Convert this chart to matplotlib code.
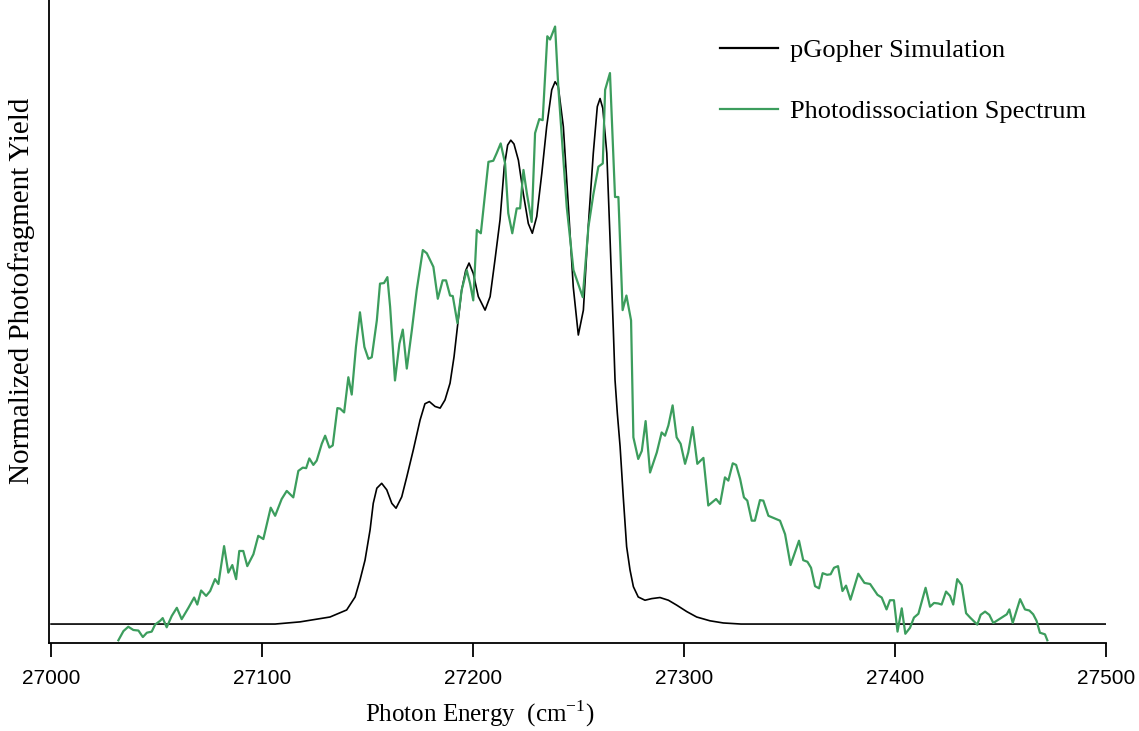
import numpy as np
import matplotlib.pyplot as plt

# pGopher simulation (black), normalised to the strongest band
sim_energy = [27000.0, 27106.2, 27118.0, 27132.2, 27140.1, 27144.1, 27146.4, 27148.8,
              27151.2, 27152.7, 27154.4, 27156.7, 27159.1, 27161.5, 27163.5, 27166.2,
              27168.6, 27171.7, 27174.9, 27177.2, 27179.3, 27182.0, 27184.4, 27186.7,
              27189.1, 27191.0, 27192.6, 27194.6, 27196.5, 27198.1, 27200.1, 27202.5,
              27205.7, 27208.1, 27210.4, 27212.8, 27214.8, 27216.4, 27217.9, 27219.4,
              27221.5, 27223.8, 27226.2, 27228.1, 27230.2, 27232.6, 27234.9, 27237.3,
              27238.9, 27240.4, 27242.8, 27245.2, 27247.5, 27249.9, 27252.3, 27254.6,
              27257.0, 27258.9, 27260.2, 27261.5, 27263.4, 27264.9, 27266.5, 27267.3,
              27268.4, 27269.7, 27271.2, 27272.8, 27274.4, 27276.0, 27278.3, 27281.5,
              27284.7, 27288.6, 27292.6, 27296.5, 27301.3, 27306.0, 27312.3, 27318.6,
              27327.0, 27500.0]
sim_yield = [0.0, 0.0, 0.004, 0.013, 0.026, 0.050, 0.081, 0.118,
             0.174, 0.223, 0.251, 0.260, 0.248, 0.223, 0.214, 0.235,
             0.272, 0.322, 0.377, 0.407, 0.411, 0.402, 0.399, 0.414,
             0.445, 0.494, 0.549, 0.617, 0.653, 0.667, 0.648, 0.605,
             0.580, 0.605, 0.673, 0.747, 0.845, 0.885, 0.894, 0.887,
             0.857, 0.796, 0.740, 0.722, 0.753, 0.833, 0.919, 0.987,
             1.002, 0.993, 0.919, 0.771, 0.623, 0.534, 0.580, 0.734,
             0.870, 0.956, 0.971, 0.953, 0.870, 0.716, 0.543, 0.451,
             0.389, 0.328, 0.235, 0.143, 0.100, 0.069, 0.050, 0.044,
             0.047, 0.049, 0.044, 0.035, 0.023, 0.013, 0.006, 0.002,
             0.0, 0.0]

# measured photodissociation spectrum (green)
exp_energy = [27031.9, 27034.3, 27036.6, 27039.0, 27041.4, 27043.5, 27045.4, 27047.7,
              27049.3, 27051.7, 27052.9, 27054.8, 27057.2, 27059.6, 27061.9, 27065.1,
              27067.8, 27069.3, 27071.1, 27073.5, 27075.4, 27077.7, 27079.3, 27082.0,
              27084.0, 27085.9, 27087.7, 27089.2, 27091.1, 27093.0, 27095.9, 27098.2,
              27100.6, 27104.1, 27106.2, 27109.3, 27111.7, 27114.8, 27117.2, 27119.3,
              27120.9, 27122.4, 27124.3, 27125.9, 27128.3, 27129.9, 27131.9, 27133.5,
              27135.7, 27137.0, 27138.9, 27140.9, 27142.5, 27144.5, 27146.4, 27148.5,
              27150.4, 27152.0, 27154.4, 27155.9, 27157.8, 27159.4, 27160.7, 27163.0,
              27165.1, 27166.7, 27168.6, 27171.0, 27173.3, 27176.2, 27178.1, 27181.2,
              27183.3, 27185.6, 27187.2, 27189.1, 27190.4, 27192.6, 27194.6, 27197.0,
              27198.6, 27200.1, 27201.8, 27203.7, 27207.3, 27209.6, 27211.2, 27213.1,
              27215.2, 27216.7, 27218.6, 27220.7, 27222.3, 27223.9, 27225.5, 27227.8,
              27229.4, 27231.4, 27233.0, 27235.2, 27236.5, 27238.9, 27240.4, 27244.4,
              27247.6, 27252.0, 27254.7, 27257.0, 27259.4, 27261.5, 27262.6, 27264.9,
              27267.3, 27268.9, 27270.9, 27272.7, 27274.9, 27276.0, 27278.3, 27280.0,
              27281.8, 27283.9, 27287.1, 27289.4, 27291.0, 27292.6, 27294.6, 27296.5,
              27298.4, 27300.5, 27302.0, 27304.1, 27306.3, 27309.2, 27311.5, 27315.2,
              27317.1, 27319.4, 27321.0, 27323.1, 27324.7, 27326.6, 27328.4, 27330.0,
              27332.1, 27333.6, 27336.0, 27337.6, 27340.0, 27345.5, 27347.9, 27350.5,
              27354.5, 27356.5, 27358.5, 27360.2, 27362.1, 27364.0, 27365.7, 27367.8,
              27369.5, 27371.1, 27373.0, 27375.1, 27376.8, 27378.9, 27382.6, 27385.5,
              27388.2, 27391.7, 27393.7, 27396.0, 27397.6, 27399.5, 27401.2, 27403.2,
              27404.9, 27407.1, 27409.0, 27411.1, 27414.5, 27416.6, 27418.5, 27420.5,
              27422.1, 27424.2, 27426.1, 27427.6, 27429.5, 27431.6, 27433.7, 27435.6,
              27439.0, 27440.6, 27442.7, 27444.7, 27446.6, 27449.4, 27453.0, 27454.2,
              27455.8, 27459.3, 27461.6, 27463.7, 27465.5, 27467.1, 27468.7, 27471.1,
              27472.2]
exp_yield = [-0.030, -0.013, -0.005, -0.011, -0.012, -0.024, -0.016, -0.014,
             -0.001, 0.006, 0.011, -0.006, 0.015, 0.030, 0.009, 0.030,
             0.049, 0.036, 0.062, 0.052, 0.061, 0.083, 0.074, 0.144,
             0.095, 0.109, 0.083, 0.135, 0.135, 0.107, 0.129, 0.163,
             0.157, 0.215, 0.200, 0.231, 0.246, 0.234, 0.283, 0.289,
             0.288, 0.306, 0.294, 0.302, 0.333, 0.348, 0.326, 0.330,
             0.399, 0.398, 0.391, 0.456, 0.424, 0.512, 0.576, 0.512,
             0.490, 0.493, 0.561, 0.629, 0.630, 0.641, 0.586, 0.450,
             0.518, 0.544, 0.472, 0.543, 0.617, 0.691, 0.685, 0.660,
             0.601, 0.635, 0.635, 0.607, 0.606, 0.556, 0.617, 0.654,
             0.629, 0.598, 0.728, 0.722, 0.854, 0.856, 0.870, 0.888,
             0.851, 0.759, 0.722, 0.768, 0.768, 0.839, 0.796, 0.743,
             0.907, 0.933, 0.931, 1.086, 1.080, 1.104, 0.993, 0.771,
             0.654, 0.604, 0.734, 0.793, 0.845, 0.851, 0.987, 1.018,
             0.789, 0.789, 0.580, 0.607, 0.561, 0.345, 0.305, 0.320,
             0.375, 0.280, 0.317, 0.354, 0.348, 0.367, 0.404, 0.345,
             0.333, 0.296, 0.317, 0.364, 0.296, 0.307, 0.219, 0.231,
             0.222, 0.271, 0.265, 0.297, 0.294, 0.268, 0.234, 0.228,
             0.191, 0.191, 0.229, 0.228, 0.200, 0.191, 0.166, 0.109,
             0.154, 0.118, 0.115, 0.104, 0.070, 0.066, 0.094, 0.091,
             0.092, 0.104, 0.107, 0.061, 0.071, 0.045, 0.093, 0.076,
             0.074, 0.054, 0.049, 0.027, 0.044, 0.044, -0.014, 0.029,
             -0.018, -0.007, 0.012, 0.019, 0.067, 0.032, 0.039, 0.038,
             0.036, 0.060, 0.052, 0.036, 0.083, 0.072, 0.020, 0.012,
             -0.001, 0.017, 0.023, 0.017, 0.002, 0.009, 0.018, 0.027,
             0.002, 0.046, 0.027, 0.025, 0.018, 0.006, -0.016, -0.019,
             -0.030]

x_ticks = [27000, 27100, 27200, 27300, 27400, 27500]

plt.rcParams['mathtext.fontset'] = 'custom'
plt.rcParams['mathtext.rm'] = 'Liberation Serif'

fig = plt.figure(figsize=(11.39, 7.31), dpi=100)
ax = fig.add_axes([0.043, 0.1204, 0.928, 0.8796])

ax.plot(sim_energy, sim_yield, color='black', lw=1.2, label='pGopher Simulation')
ax.plot(exp_energy, exp_yield, color='#3c9d5d', lw=1.6, label='Photodissociation Spectrum')

ax.set_xlim(26999, 27500)
ax.set_ylim(-0.035, 1.153)

ax.spines['top'].set_visible(False)
ax.spines['right'].set_visible(False)
ax.spines['left'].set_linewidth(1.3)
ax.spines['bottom'].set_linewidth(1.3)

ax.set_yticks([])
ax.set_xticks(x_ticks)
ax.set_xticklabels([str(t) for t in x_ticks], fontfamily='Liberation Sans', fontsize=15)
ax.tick_params(axis='x', direction='out', length=10, width=1.3, pad=9)

# labels sit a bit left of / above the axes centre
ax.set_xlabel('Photon Energy  (cm$^{-1}$)', fontfamily='Liberation Serif', fontsize=18)
ax.xaxis.set_label_coords(0.408, -0.087)
ax.set_ylabel('Normalized Photofragment Yield', fontfamily='Liberation Serif', fontsize=21)
ax.yaxis.set_label_coords(-0.013, 0.547)

leg = ax.legend(loc='upper left', bbox_to_anchor=(0.635, 0.940), frameon=False,
                borderaxespad=0, borderpad=0,
                prop={'family': 'Liberation Serif', 'size': 19},
                handlelength=2.2, handletextpad=0.45, labelspacing=1.43)
for line in leg.get_lines():
    line.set_linewidth(1.6)

fig.savefig('out.png', dpi=100)
